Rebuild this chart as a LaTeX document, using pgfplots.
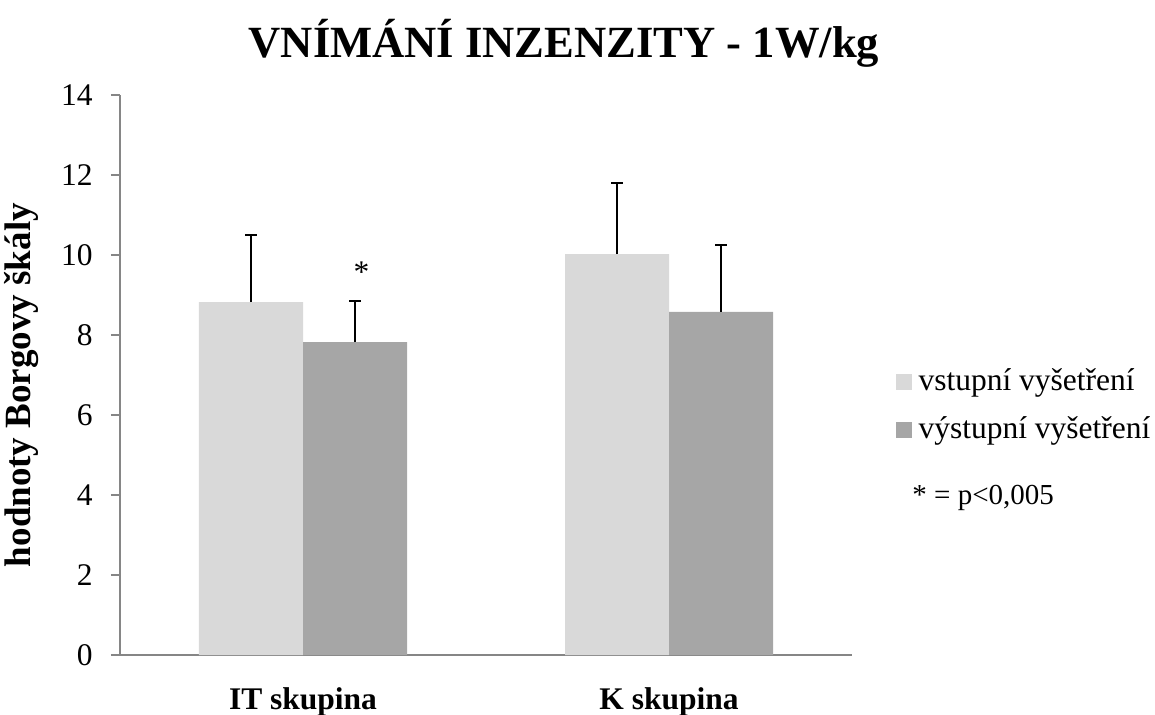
\documentclass[border=0pt]{standalone}
\usepackage{fontspec}
\setmainfont{Liberation Serif}
\usepackage{pgfplots}
\pgfplotsset{compat=1.18}
\definecolor{lightbar}{HTML}{D9D9D9}
\definecolor{darkbar}{HTML}{A6A6A6}
\definecolor{axisgray}{HTML}{868686}
\newcommand{\f}{\fontsize{15.75}{18}\selectfont}
\begin{document}
\begin{tikzpicture}
\path[use as bounding box] (0,0) rectangle (577.5pt,-357.5pt);
\node[font=\fontsize{22.3}{26}\selectfont\bfseries, anchor=base, inner sep=0pt] at (282pt,-29pt) {VNÍMÁNÍ INZENZITY - 1W/kg};
\begin{axis}[
  at={(60pt,-327.5pt)}, anchor=south west,
  scale only axis, width=366pt, height=280pt,
  xmin=-0.5, xmax=1.5, ymin=0, ymax=14,
  ytick={0,2,...,14},
  xtick={0,1}, xticklabels={IT skupina, K skupina},
  axis x line=bottom, axis y line=left,
  axis line style={axisgray, line width=0.75pt, -},
  xtick style={draw=none},
  ytick style={axisgray, line width=0.75pt},
  tick align=outside, major tick length=4.5pt,
  /pgf/number format/assume math mode=true,
  tick label style={font=\f},
  yticklabel style={anchor=east, inner sep=0pt, xshift=-9pt},
  xticklabel style={font=\f\bfseries, anchor=center, yshift=-19pt},
  ylabel={hodnoty Borgovy škály},
  ylabel style={font=\fontsize{18.5}{21}\selectfont\bfseries, at={(axis description cs:-0.134,0.482)}, anchor=center},
  ybar=0pt, bar width=52pt,
  legend style={at={(axis description cs:1.059,0.4446)}, anchor=west, draw=none, fill=none,
    inner sep=0pt, font=\f, row sep=8pt,
    nodes={inner sep=0pt, text height=12pt, text depth=4pt},
    /tikz/every odd column/.append style={column sep=3.5pt}},
  legend cell align=left,
  legend image code/.code={\fill[#1] (0pt,-4pt) rectangle (8pt,4pt);},
]
\addplot[fill=lightbar, draw=none,
  error bars/.cd, y dir=plus, y explicit, error mark=|,
  error bar style={draw=black, line width=1pt},
  error mark options={draw=black, line width=1pt, mark size=3pt}]
  coordinates {(0,8.82) +- (0,1.68) (1,10.02) +- (0,1.79)};
\addplot[fill=darkbar, draw=none,
  error bars/.cd, y dir=plus, y explicit, error mark=|,
  error bar style={draw=black, line width=1pt},
  error mark options={draw=black, line width=1pt, mark size=3pt}]
  coordinates {(0,7.82) +- (0,1.04) (1,8.58) +- (0,1.66)};
\legend{vstupní vyšetření, výstupní vyšetření}
\node[font=\f, anchor=base, inner sep=0pt] at (axis cs:0.16,9.3) {*};
\end{axis}
\node[font=\fontsize{14.5}{17}\selectfont, anchor=base west, inner sep=0pt] at (456pt,-252pt) {* = p<0,005};
\end{tikzpicture}
\end{document}
